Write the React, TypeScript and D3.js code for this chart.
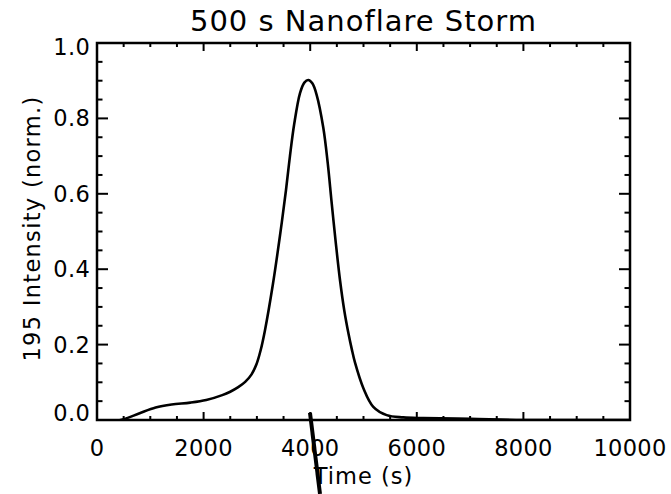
import React from "react";
import * as d3 from "d3";

const title = "500 s Nanoflare Storm";
const xTitle = "Time (s)";
const yTitle = "195 Intensity (norm.)";
const xMajorTicks = [0, 2000, 4000, 6000, 8000, 10000];
const yMajorTicks = [0, 0.2, 0.4, 0.6, 0.8, 1.0];
const timeS = [0, 300, 500, 800, 1100, 1400, 1750, 2050, 2350, 2500, 2650, 2780, 2900, 2990, 3070, 3150, 3300, 3430, 3546, 3620, 3700, 3809, 3890, 3964, 4040, 4122, 4246, 4330, 4400, 4480, 4560, 4640, 4720, 4780, 4841, 4996, 5184, 5435, 5747, 6122, 7000, 8000, 10000];
const intensity = [-0.005, -0.003, 0.002, 0.018, 0.033, 0.041, 0.046, 0.053, 0.066, 0.075, 0.087, 0.101, 0.121, 0.147, 0.185, 0.237, 0.36, 0.486, 0.61, 0.7, 0.785, 0.867, 0.895, 0.902, 0.893, 0.862, 0.775, 0.68, 0.58, 0.47, 0.37, 0.29, 0.228, 0.188, 0.152, 0.085, 0.035, 0.013, 0.007, 0.005, 0.003, 0.0, 0.0];
const markT = [3996, 4184];
const markV = [0.019, -0.196];

const W = 671, H = 494;
const L = 97, R = 630, T = 43, B = 420;

export default function App() {
  const x = d3.scaleLinear().domain([0, 10000]).range([L, R]);
  const y = d3.scaleLinear().domain([0, 1]).range([B, T]);
  const pts = timeS.map((t, i) => [t, intensity[i]] as [number, number]);
  const line = d3.line<[number, number]>().x(d => x(d[0])).y(d => y(Math.max(d[1], -0.003))).curve(d3.curveCatmullRom.alpha(0.5));
  const xMinor = d3.range(0, 10001, 500);
  const yMinor = d3.range(0, 21).map(i => i * 0.05);
  const xLen = (v: number) => (Math.abs(v / 2000 - Math.round(v / 2000)) < 1e-6 ? 8 : 4);
  const yLen = (v: number) => (Math.abs(v / 0.2 - Math.round(v / 0.2)) < 1e-6 ? 11 : 5.5);
  const font = "'DejaVu Sans', Verdana, sans-serif";
  const fs = 22.5;
  return (
    <svg width={W} height={H} style={{ position: "absolute", left: 0, top: 0, background: "#fff" }} fontFamily={font}>
      <rect width={W} height={H} fill="#fff" />
      <defs>
        <clipPath id="pc"><rect x={L} y={T - 2} width={R - L} height={B - T + 3} /></clipPath>
      </defs>
      <path d={line(pts) || ""} fill="none" stroke="#000" strokeWidth={2.6} clipPath="url(#pc)" />
      <rect x={L} y={T} width={R - L} height={B - T} fill="none" stroke="#000" strokeWidth={2.5} />
      {xMinor.map(v => (
        <g key={"xt" + v} stroke="#000" strokeWidth={2}>
          <line x1={x(v)} x2={x(v)} y1={B} y2={B - xLen(v)} />
          <line x1={x(v)} x2={x(v)} y1={T} y2={T + xLen(v)} />
        </g>
      ))}
      {yMinor.map(v => (
        <g key={"yt" + v} stroke="#000" strokeWidth={2}>
          <line x1={L} x2={L + yLen(v)} y1={y(v)} y2={y(v)} />
          <line x1={R} x2={R - yLen(v)} y1={y(v)} y2={y(v)} />
        </g>
      ))}
      {xMajorTicks.map(v => (
        <text key={"xl" + v} x={x(v)} y={B + 36} fontSize={fs} textAnchor="middle" letterSpacing={0.3}>{String(v)}</text>
      ))}
      {yMajorTicks.map(v => (
        <text key={"yl" + v} x={L - 7} y={y(v) + (v === 0 ? 1 : v === 1 ? 12 : 8)} fontSize={fs} textAnchor="end" letterSpacing={0.3}>{v.toFixed(1)}</text>
      ))}
      <text x={(L + R) / 2} y={31} fontSize={29} textAnchor="middle" letterSpacing={1}>{title}</text>
      <text x={(L + R) / 2} y={484} fontSize={fs} textAnchor="middle" letterSpacing={1}>{xTitle}</text>
      <text transform={`translate(40,${(T + B) / 2 - 3}) rotate(-90)`} fontSize={fs} textAnchor="middle" letterSpacing={1.3}>{yTitle}</text>
      <line x1={x(markT[0])} y1={y(markV[0])} x2={x(markT[1])} y2={y(markV[1])} stroke="#000" strokeWidth={4} />
    </svg>
  );
}
